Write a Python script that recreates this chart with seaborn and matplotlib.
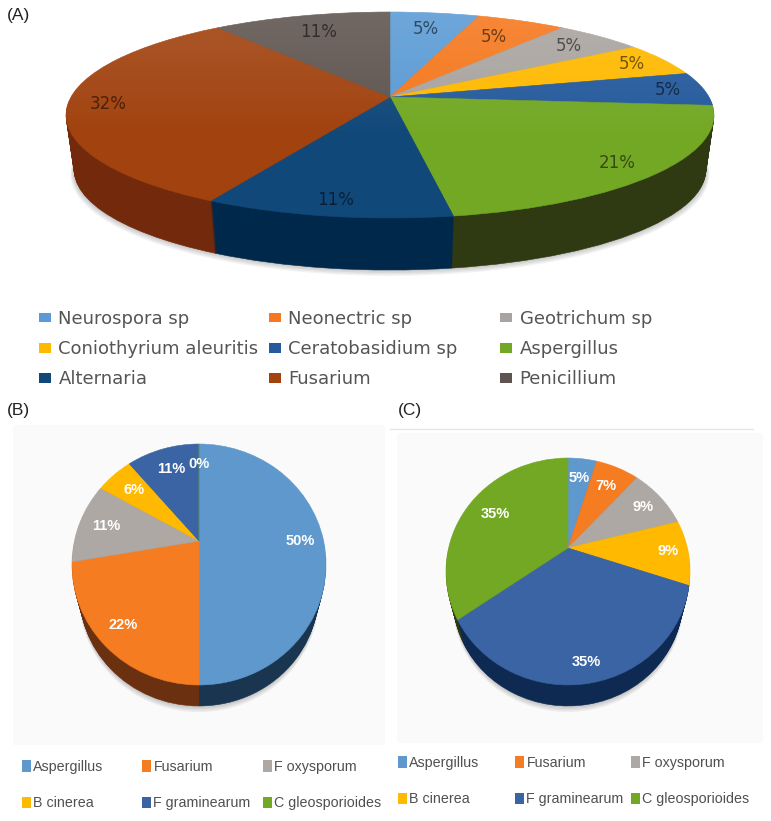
import numpy as np
import seaborn as sns
import matplotlib
matplotlib.use("Agg")
import matplotlib.pyplot as plt
from matplotlib.patches import Circle, Patch, Rectangle
from matplotlib.transforms import Transform

# values are isolate counts, the pies print them as rounded percentages
names_a = ["Neurospora sp", "Neonectric sp", "Geotrichum sp", "Coniothyrium aleuritis",
           "Ceratobasidium sp", "Aspergillus", "Alternaria", "Fusarium", "Penicillium"]
counts_a = [1, 1, 1, 1, 1, 4, 2, 6, 2]

names_bc = ["Aspergillus", "Fusarium", "F oxysporum", "B cinerea", "F graminearum", "C gleosporioides"]
counts_b = [9, 4, 2, 1, 2, 0]
counts_c = [2, 3, 4, 4, 15, 15]

top_a = ["#5b9bd5", "#f5781e", "#a9a4a0", "#ffb900", "#255a9c", "#73a824", "#11487a", "#a1420f", "#5f5550"]
side_a = ["#2f5f86", "#8a4310", "#5f5c5a", "#8a6500", "#12305a", "#2f3a12", "#00284a", "#72290c", "#38322f"]
top_bc = ["#5f98cc", "#f57c20", "#aea8a4", "#ffb900", "#3a64a4", "#73a824"]
side_b = ["#1a3550", "#6b300f", "#5f5c5a", "#8a6500", "#12305a", "#2f3a12"]
side_c = ["#1a3550", "#6b300f", "#5f5c5a", "#8a6500", "#0e2a52", "#2f3a12"]

# how far out along the radius each percentage sits
label_r_a = [0.784, 0.764, 0.836, 0.878, 0.886, 0.87, 0.886, 0.875, 0.777]
label_r_b = [0.81, 0.83, 0.78, 0.75, 0.75, 0.76]
label_r_c = [0.75, 0.745, 0.795, 0.83, 0.87, 0.735]


class TiltTransform(Transform):
    """Unit circle to a tilted disc in pixel coordinates, centre stays off the middle."""
    input_dims = 2
    output_dims = 2
    is_affine = False
    has_inverse = False

    def __init__(self, cx, cy, a, b, k):
        super().__init__()
        self.cx, self.cy, self.a, self.b, self.k = cx, cy, a, b, k

    def transform_non_affine(self, values):
        values = np.asarray(values)
        w = 1 + self.k * values[:, 1]
        return np.column_stack([self.cx + self.a * values[:, 0] / w,
                                self.cy - self.b * values[:, 1] / w])


sns.set_theme(style="white")
plt.rcParams["font.family"] = ["Liberation Sans", "DejaVu Sans"]

fig = plt.figure(figsize=(7.71, 8.21), dpi=100)
ax = fig.add_axes([0, 0, 1, 1])


def lower_disc(tilt, d, depth, shrink):
    # the far face of the pie is a bit narrower, its lowest point moves down by d
    cx, cy, a, b, k = tilt
    s = 1 - (1 - shrink) * d / depth
    return TiltTransform(cx, cy + d + b * (1 - s) / (1 - k), a * s, b * s, k) + ax.transData


def draw_pie(counts, top, side, label_r, tilt, depth, shrink, label_style, sheen):
    cx, cy, a, b, k = tilt
    pie_args = dict(startangle=90, counterclock=False)

    # soft shadow under the disc
    for i in range(4):
        sh = ax.pie([1], colors=["#000000"], radius=1.004 + 0.003 * i,
                    wedgeprops=dict(alpha=0.05, linewidth=0), **pie_args)[0]
        sh[0].set_transform(lower_disc(tilt, depth + 1 + i, depth, shrink))

    # the rim is the same pie stacked downwards
    for d in range(depth, 0, -1):
        wedges = ax.pie(counts, colors=sns.color_palette(side), wedgeprops=dict(linewidth=0.4), **pie_args)[0]
        for w in wedges:
            w.set_edgecolor(w.get_facecolor())
            w.set_transform(lower_disc(tilt, d, depth, shrink))

    tr = TiltTransform(cx, cy, a, b, k) + ax.transData
    wedges, _, autotexts = ax.pie(counts, colors=sns.color_palette(top), pctdistance=0.8,
                                  autopct=lambda p: f"{p:.0f}%",
                                  wedgeprops=dict(linewidth=0.4), **pie_args)
    for w in wedges:
        w.set_edgecolor(w.get_facecolor())
        w.set_transform(tr)
    for t, r in zip(autotexts, label_r):
        x, y = t.get_position()
        t.set_position((x * r / 0.8, y * r / 0.8))
        t.set_transform(tr)
        t.set(**label_style)
        t.set_zorder(3)

    # lighter at the back of the disc
    if sheen > 0:
        grad = np.zeros((64, 1, 4))
        grad[..., :3] = 1
        grad[:, 0, 3] = sheen * np.clip(1 - np.linspace(0, 1, 64) * 1.6, 0, 1)
        im = ax.imshow(grad, extent=(cx - a * 1.1, cx + a * 1.1, cy + b * 1.3, cy - b), aspect="auto", zorder=2)
        disc = Circle((0, 0), 1, transform=tr, visible=False)
        ax.add_patch(disc)
        im.set_clip_path(disc)


def add_legend(names, colors, col_x, y, **kw):
    # filled by rows in the picture, so one legend for each column
    for c, x in enumerate(col_x):
        handles = [Patch(facecolor=col) for col in colors[c::len(col_x)]]
        leg = ax.legend(handles, names[c::len(col_x)], loc="upper left", bbox_to_anchor=(x, y),
                        bbox_transform=ax.transData, frameon=False, borderpad=0, borderaxespad=0, **kw)
        for h in leg.legend_handles:
            h.set_linewidth(0)
        ax.add_artist(leg)
        ax.legend_ = None


# pale backdrops behind panels B and C
ax.add_patch(Rectangle((13, 425), 372, 320, facecolor="#fafafa", edgecolor="none", zorder=0))
ax.add_patch(Rectangle((397, 433), 366, 310, facecolor="#fafafa", edgecolor="none", zorder=0))
ax.plot([390, 753], [429, 429], color="#e6e6e6", lw=1, zorder=0)

draw_pie(counts_a, top_a, side_a, label_r_a, (390, 97, 319, 99.85, 0.175), 52, 0.975,
         dict(color="#000000", alpha=0.55, fontsize=12, family="DejaVu Sans"), 0.13)
draw_pie(counts_b, top_bc, side_b, label_r_b, (199, 541, 124.6, 115.9, 0.195), 21, 0.94,
         dict(color="white", fontsize=10.5, fontweight="bold", family="Liberation Sans"), 0)
draw_pie(counts_c, top_bc, side_c, label_r_c, (568, 548, 119.4, 108.6, 0.207), 21, 0.94,
         dict(color="white", fontsize=10.5, fontweight="bold", family="Liberation Sans"), 0)

add_legend(names_a, top_a, [39, 269, 500], 310, prop=dict(family="DejaVu Sans", size=13), labelcolor="#555555",
           labelspacing=0.67, handlelength=0.68, handleheight=0.45, handletextpad=0.4)
add_legend(names_bc, top_bc, [22, 142, 263], 760, prop=dict(family="Liberation Sans", size=10.3), labelcolor="#505050",
           labelspacing=1.55, handlelength=0.65, handleheight=0.85, handletextpad=0.15)
add_legend(names_bc, top_bc, [398, 515, 631], 756, prop=dict(family="Liberation Sans", size=10.3), labelcolor="#505050",
           labelspacing=1.55, handlelength=0.65, handleheight=0.85, handletextpad=0.15)

ax.text(7, 15, "(A)", fontsize=12.5, color="#222222", va="center")
ax.text(7, 410, "(B)", fontsize=12.5, color="#222222", va="center")
ax.text(398, 410, "(C)", fontsize=12.5, color="#222222", va="center")

ax.set_xlim(0, 771)
ax.set_ylim(821, 0)
ax.set_axis_off()

fig.savefig("out.png", dpi=100)
